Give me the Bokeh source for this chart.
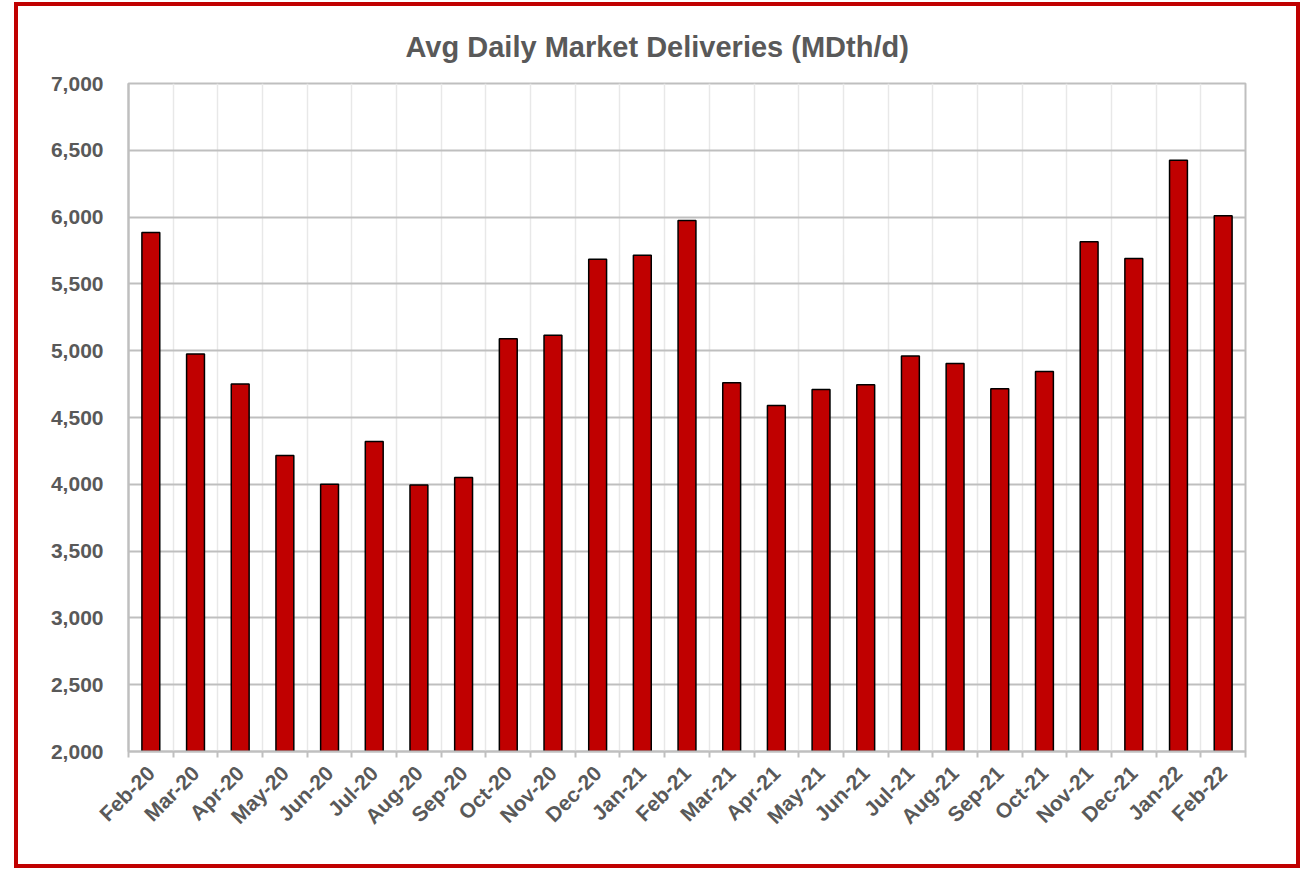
import math
from bokeh.plotting import figure
from bokeh.models import (Range1d, LinearAxis, FixedTicker, Grid, NumeralTickFormatter,
                          CustomJSTickFormatter, ColumnDataSource)
from bokeh.embed import file_html
from bokeh.resources import INLINE

# ---- data ----
months = ["Feb-20", "Mar-20", "Apr-20", "May-20", "Jun-20", "Jul-20", "Aug-20", "Sep-20",
          "Oct-20", "Nov-20", "Dec-20", "Jan-21", "Feb-21", "Mar-21", "Apr-21", "May-21",
          "Jun-21", "Jul-21", "Aug-21", "Sep-21", "Oct-21", "Nov-21", "Dec-21", "Jan-22",
          "Feb-22"]
deliveries = [5885, 4975, 4750, 4215, 4000, 4320, 3995, 4050,
              5090, 5115, 5685, 5715, 5975, 4760, 4590, 4710,
              4745, 4960, 4905, 4715, 4845, 5815, 5690, 6425,
              6010]
y_ticks = [2000, 2500, 3000, 3500, 4000, 4500, 5000, 5500, 6000, 6500, 7000]
title_text = "Avg Daily Market Deliveries (MDth/d)"

FONT = "Liberation Sans"
TEXT = "#595959"
GRID = "#bfbfbf"

n = len(months)
centers = [i + 0.5 for i in range(n)]
bounds = [float(i) for i in range(n + 1)]
y_min, y_max = y_ticks[0], y_ticks[-1]

src = ColumnDataSource(dict(x=centers, top=deliveries, bottom=[y_min] * n, month=months))

p = figure(width=1286, height=866,
           x_range=Range1d(0, n), y_range=Range1d(y_min, y_max),
           x_axis_type=None, y_axis_type=None,
           output_backend="svg", toolbar_location=None,
           min_border_left=110, min_border_right=59, min_border_top=77, min_border_bottom=121,
           styles={"border": "4px solid #C00000", "margin-left": "14px", "margin-top": "2px"})
p.background_fill_color = "white"
p.border_fill_color = "white"
p.outline_line_color = GRID
p.outline_line_width = 2

# title
p.title.text = title_text
p.title.text_font = FONT
p.title.text_font_style = "bold"
p.title.text_font_size = "29px"
p.title.text_color = TEXT
p.title.align = "left"
p.title.vertical_align = "top"
p.title.offset = 277
p.title.standoff = 38

# grids
yticker = FixedTicker(ticks=y_ticks)
xticker = FixedTicker(ticks=centers, minor_ticks=bounds)
p.add_layout(Grid(dimension=0, ticker=FixedTicker(ticks=bounds),
                  grid_line_color="#e8e8e8", grid_line_width=1.5))
p.add_layout(Grid(dimension=1, ticker=yticker,
                  grid_line_color=GRID, grid_line_width=2))

# bars
p.vbar(x="x", top="top", bottom="bottom", width=0.40, source=src,
       fill_color="#C00000", line_color="black", line_width=1.5)

# y axis
yaxis = LinearAxis(ticker=yticker, formatter=NumeralTickFormatter(format="0,0"))
yaxis.axis_line_color = GRID
yaxis.axis_line_width = 2
yaxis.major_tick_line_color = None
yaxis.minor_tick_line_color = None
yaxis.major_tick_in = 0
yaxis.major_tick_out = 0
yaxis.major_label_standoff = 25
yaxis.major_label_text_font = FONT
yaxis.major_label_text_font_style = "bold"
yaxis.major_label_text_font_size = "21px"
yaxis.major_label_text_color = TEXT
p.add_layout(yaxis, "left")

# x axis
xaxis = LinearAxis(ticker=xticker,
                   formatter=CustomJSTickFormatter(args=dict(labels=months),
                                                   code="return labels[Math.floor(tick)] || '';"))
xaxis.axis_line_color = GRID
xaxis.axis_line_width = 2
xaxis.major_tick_line_color = None
xaxis.minor_tick_line_color = GRID
xaxis.minor_tick_line_width = 2
xaxis.minor_tick_in = 0
xaxis.minor_tick_out = 6
xaxis.major_tick_in = 0
xaxis.major_tick_out = 0
xaxis.major_label_standoff = 12
xaxis.major_label_orientation = math.pi / 4
xaxis.major_label_text_font = FONT
xaxis.major_label_text_font_style = "bold"
xaxis.major_label_text_font_size = "21px"
xaxis.major_label_text_color = TEXT
p.add_layout(xaxis, "below")

open("out.html", "w").write(file_html(p, INLINE))
